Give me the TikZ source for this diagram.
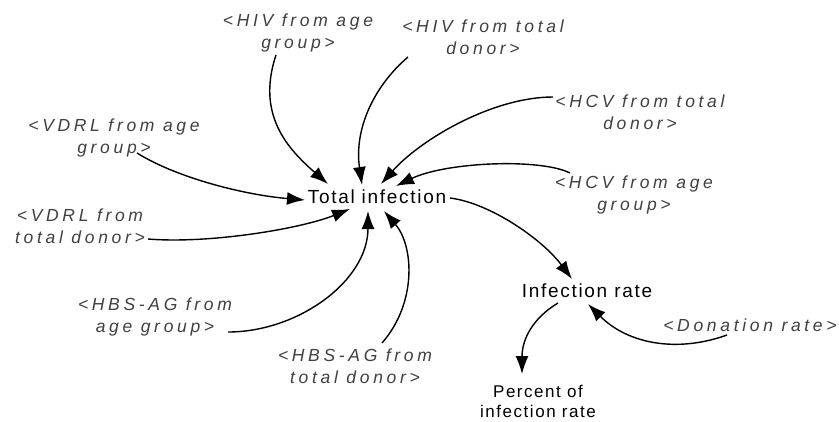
\documentclass[tikz,border=0pt]{standalone}
\usepackage{fontspec}
\setmainfont{Liberation Sans}
\newfontfamily\varfont[LetterSpace=9]{Liberation Sans}
\newfontfamily\shadowfont[LetterSpace=21]{Liberation Sans}
\usetikzlibrary{arrows.meta,calc}
\begin{document}
\begin{tikzpicture}[x=1pt,y=-1pt,
  varnode/.style={inner sep=1pt,align=center,font=\varfont\fontsize{19}{21}\selectfont},
  shadownode/.style={inner sep=1pt,align=center,text=black!75,
    font=\shadowfont\itshape\fontsize{17.5}{22}\selectfont},
  conn/.style={line width=1.4pt,-{Latex[length=18pt,width=13pt]}}]
\useasboundingbox (0,0) rectangle (839,421);
\fill[white] (0,0) rectangle (839,421);

% variables
\node[varnode] (ti)  at (377,197) {Total infection};
\node[varnode] (ir)  at (587,291) {Infection rate};
\node[varnode,font=\varfont\fontsize{17}{20}\selectfont] (pct) at (538,401) {Percent of\\infection rate};

% shadow variables
\node[shadownode] (hivA)  at (298,33)  {<HIV from age\\group>};
\node[shadownode] (hivT)  at (483,37)  {<HIV from total\\donor>};
\node[shadownode] (hcvT)  at (640,112) {<HCV from total\\donor>};
\node[shadownode] (hcvA)  at (634,195) {<HCV from age\\group>};
\node[shadownode] (vdrlA) at (114,138) {<VDRL from age\\group>};
\node[shadownode] (vdrlT) at (80,226)  {<VDRL from\\total donor>};
\node[shadownode] (hbsA)  at (155,317) {<HBS-AG from\\age group>};
\node[shadownode] (hbsT)  at (355,366) {<HBS-AG from\\total donor>};
\node[shadownode] (don)   at (750,325) {<Donation rate>};

% links into Total infection
\draw[conn] ($(hivA)+(-22,22)$) .. controls +(-20,60) and +(-40,-35) .. ($(ti)+(-49,-13)$);
\draw[conn] ($(hivT)+(-75,20)$) .. controls +(-35,30) and +(-8,-55) .. ($(ti)+(-15,-12)$);
\draw[conn] ($(hcvT)+(-87,-15)$) .. controls +(-60,0) and +(40,-45) .. ($(ti)+(4,-13)$);
\draw[conn] ($(hcvA)+(-64,-22)$) .. controls +(-30,-15) and +(50,-24) .. ($(ti)+(19,-11)$);
\draw[conn] ($(vdrlA)+(23,15)$) .. controls +(40,25) and +(-60,-5) .. ($(ti)+(-72,3)$);
\draw[conn] ($(vdrlT)+(68,13)$) .. controls +(60,5) and +(-50,20) .. ($(ti)+(-27,12)$);
\draw[conn] ($(hbsA)+(73,15)$) .. controls +(70,0) and +(0,70) .. ($(ti)+(-9,14)$);
\draw[conn] ($(hbsT)+(27,-23)$) .. controls +(35,-40) and +(30,35) .. ($(ti)+(7,14)$);

% Total infection -> Infection rate -> Percent of infection rate
\draw[conn] ($(ti)+(73,1)$) .. controls +(40,5) and +(-30,-40) .. ($(ir)+(-15,-12)$);
\draw[conn] ($(ir)+(-29,12)$) .. controls +(-25,15) and +(0,-35) .. ($(pct)+(-16,-27)$);
\draw[conn] ($(don)+(-23,10)$) .. controls +(-50,18) and +(40,40) .. ($(ir)+(1,13)$);
\end{tikzpicture}
\end{document}
